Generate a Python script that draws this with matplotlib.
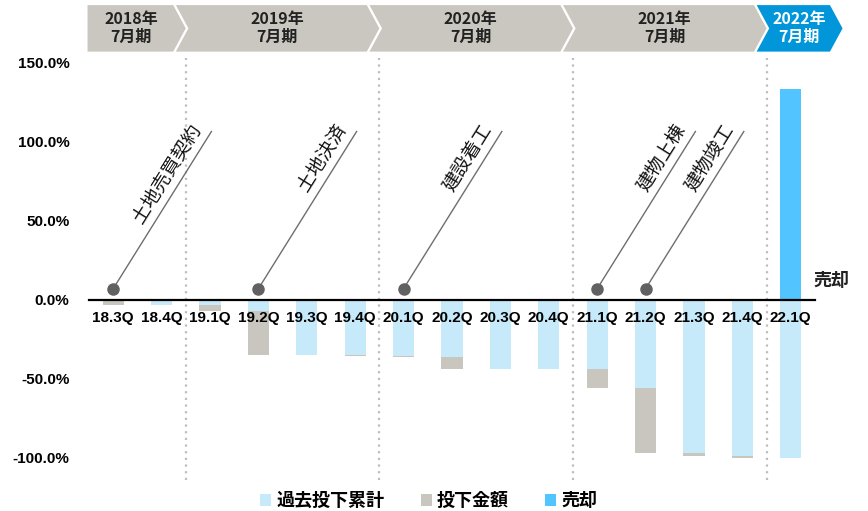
import matplotlib
matplotlib.use("Agg")
import matplotlib.pyplot as plt
import numpy as np
from matplotlib.patches import Polygon
from matplotlib.ticker import PercentFormatter
from matplotlib.transforms import blended_transform_factory, offset_copy

plt.rcParams['font.family'] = ['Liberation Sans', 'Noto Sans CJK JP', 'DejaVu Sans']
plt.rcParams['axes.unicode_minus'] = False

# quarters
quarters = ['18.3Q', '18.4Q', '19.1Q', '19.2Q', '19.3Q', '19.4Q', '20.1Q', '20.2Q',
            '20.3Q', '20.4Q', '21.1Q', '21.2Q', '21.3Q', '21.4Q', '22.1Q']
# cumulative past investment (%)
cumulative = [0.0, -3.5, -3.5, -7.0, -35.0, -35.0, -35.6, -36.5,
              -44.0, -44.0, -44.0, -55.7, -97.0, -98.6, -100.4]
# investment in the quarter (%)
invested = [-3.5, 0.0, -3.5, -28.0, 0.0, -0.6, -0.9, -7.5,
            0.0, 0.0, -11.7, -41.3, -1.6, -1.8, 0.0]
# sale proceeds (%)
sale = [0, 0, 0, 0, 0, 0, 0, 0, 0, 0, 0, 0, 0, 0, 133.5]

# fiscal periods shown as arrows on top
periods = ['2018年\n7月期', '2019年\n7月期', '2020年\n7月期', '2021年\n7月期', '2022年\n7月期']
period_bounds = [-0.53, 1.5, 5.5, 9.5, 13.5, 15.07]

# milestones: quarter index, label
milestones = [(0, '土地売買契約'), (3, '土地決済'), (6, '建設着工'), (10, '建物上棟'), (11, '建物竣工')]

c_cum = '#C6EAFA'
c_inv = '#C8C6BE'
c_sale = '#52C4FF'
c_head = '#C9C7BF'
c_head_now = '#0096D9'

jp = ['Noto Sans CJK JP', 'DejaVu Sans']

fig = plt.figure(figsize=(8.68, 5.11), dpi=100)
ax = fig.add_axes([0.1025, 0.0607, 0.8364, 0.8258])

x = list(range(len(quarters)))
w = 0.44
b1 = ax.bar(x, cumulative, width=w, color=c_cum, label='過去投下累計')
b2 = ax.bar(x, invested, width=w, bottom=cumulative, color=c_inv, label='投下金額')
b3 = ax.bar(x, sale, width=w, color=c_sale, label='売却')

ax.set_xlim(-0.5, 14.5)
ax.set_ylim(-114, 153)
ax.set_yticks([150, 100, 50, 0, -50, -100])
ax.yaxis.set_major_formatter(PercentFormatter(decimals=1))
ax.set_xticks(x)
ax.set_xticklabels(quarters)

for s in ['top', 'right', 'left']:
    ax.spines[s].set_visible(False)
ax.spines['bottom'].set_position(('data', 0))
ax.spines['bottom'].set_linewidth(1.6)
ax.spines['bottom'].set_zorder(4)
ax.tick_params(axis='both', length=0)
ax.tick_params(axis='x', pad=8)
ax.tick_params(axis='y', pad=14)
for lab in ax.get_xticklabels() + ax.get_yticklabels():
    lab.set_fontweight('bold')
    lab.set_fontsize(11)

# period separators
for b in period_bounds[1:-1]:
    ax.axvline(b, color='#BDBDBD', linestyle=(0, (1, 2)), linewidth=1.6, zorder=0.5)

# milestone markers with leaning labels, lifted a few pixels off the leader line
ang = 58
lift = 5
shifted = offset_copy(ax.transData, fig=fig, units='dots',
                      x=-lift * np.sin(np.radians(ang)), y=lift * np.cos(np.radians(ang)))
y0, y1, dx = 7, 106.5, 2.03
for i, name in milestones:
    ax.plot([i, i + dx], [y0, y1], color='#6E6E6E', linewidth=1, zorder=3)
    ax.plot(i, y0, 'o', color='#616161', markersize=8, zorder=3)
    t = 0.985
    ax.text(i + dx * t, y0 + (y1 - y0) * t, name, transform=shifted,
            rotation=ang, rotation_mode='anchor', ha='right', va='bottom',
            fontsize=13.5, family=jp, color='#111111')

ax.text(14.47, 12, '売却', ha='left', va='center', fontsize=13, fontweight='bold',
        family=jp, color='#222222')

# period arrows
tr = blended_transform_factory(ax.transData, fig.transFigure)
top, bot = 0.990, 0.899
mid = (top + bot) / 2
d, g = 0.26, 0.055
for k, lab in enumerate(periods):
    L, P = period_bounds[k], period_bounds[k + 1]
    if k == 0:
        pts = [(L, bot), (L, top), (P - d, top), (P, mid), (P - d, bot)]
    else:
        pts = [(L - d + g, bot), (L + g, mid), (L - d + g, top),
               (P - d, top), (P, mid), (P - d, bot)]
    now = k == len(periods) - 1
    ax.add_patch(Polygon(pts, closed=True, transform=tr, clip_on=False,
                         facecolor=c_head_now if now else c_head, edgecolor='none'))
    ax.text((L + P) / 2 - d / 2 + 0.02, mid, lab, transform=tr, ha='center', va='center',
            fontsize=11.5, fontweight='bold', family=jp, linespacing=1.15,
            color='white' if now else '#222222')

fig.legend(handles=[b1, b2, b3], loc='center', bbox_to_anchor=(0.494, 0.02), ncol=3,
           frameon=False, handlelength=0.6, handleheight=0.6, handletextpad=0.3,
           columnspacing=2.0, prop={'family': jp, 'weight': 'bold', 'size': 13})

fig.savefig('out.png', dpi=100)
